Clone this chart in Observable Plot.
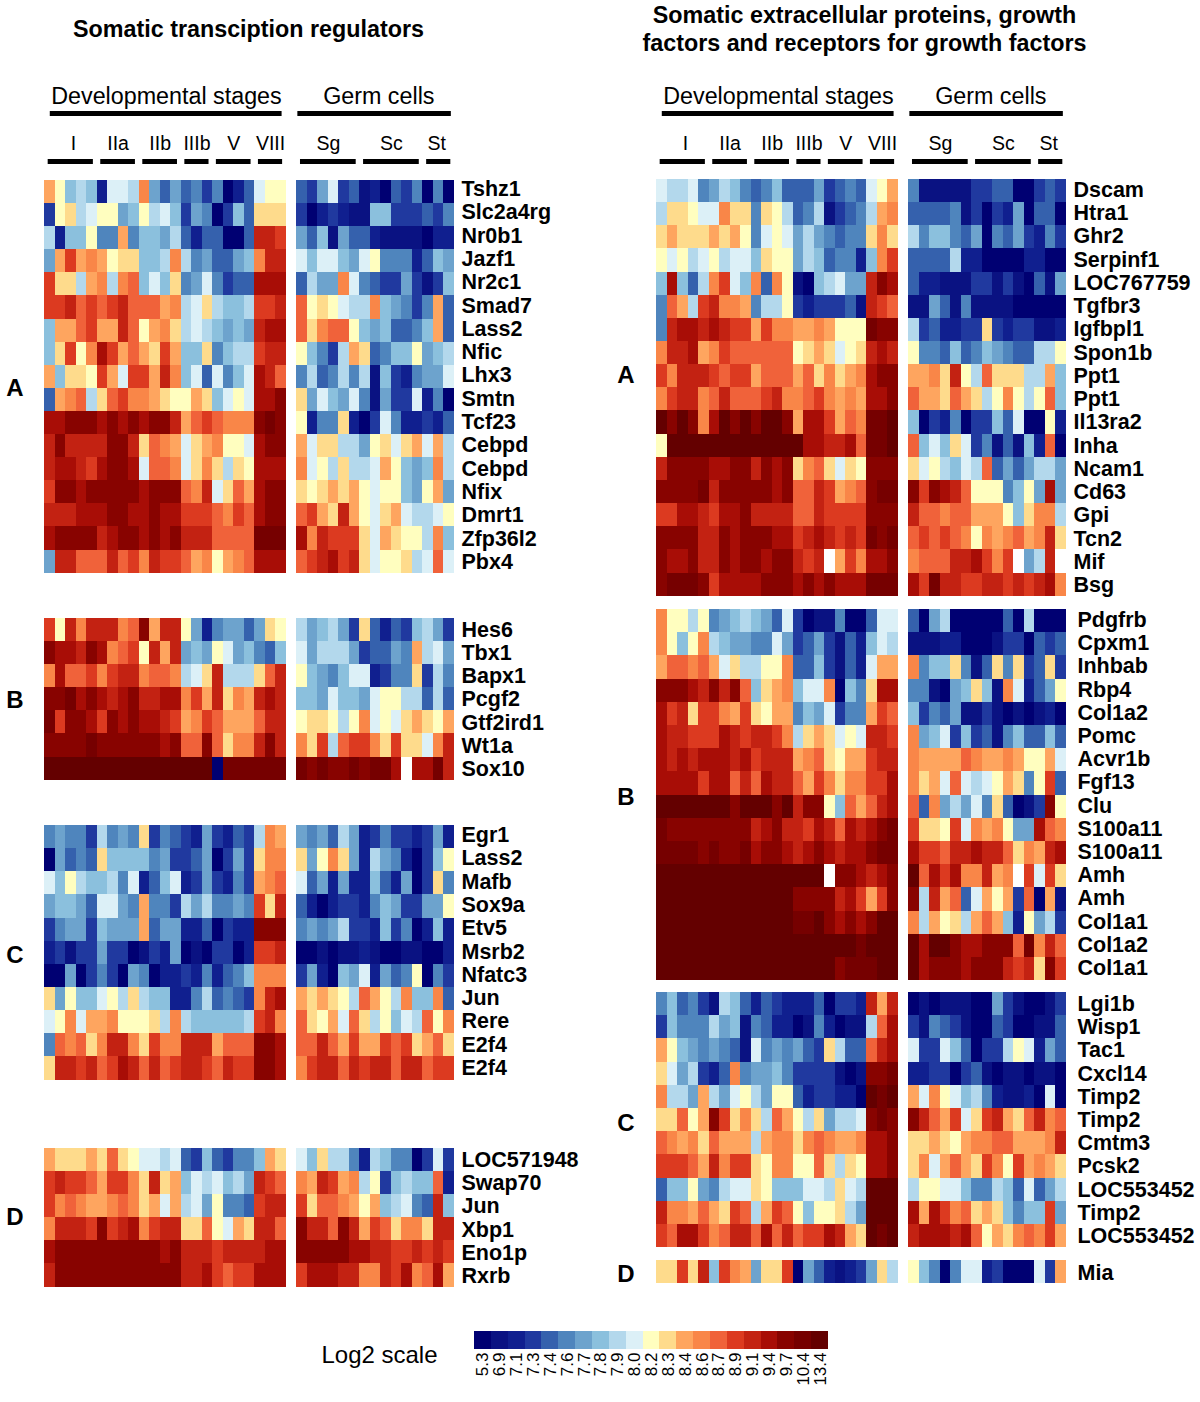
<!DOCTYPE html>
<html>
<head>
<meta charset="utf-8">
<script src="https://cdn.jsdelivr.net/npm/d3@7"></script>
<script src="https://cdn.jsdelivr.net/npm/@observablehq/plot@0.6"></script>
<style>
html,body{margin:0;padding:0;background:#fff}
#page{position:relative;width:1200px;height:1402px;overflow:hidden;font-family:"Liberation Sans",Arial,sans-serif;color:#000}
.t{position:absolute;white-space:nowrap;transform:translate(-50%,-50%)}
.title{font-weight:bold;font-size:23.3px;text-align:center;line-height:28px}
.side{font-weight:bold;font-size:24px}
svg{position:absolute}
</style>
</head>
<body>
<div id="page"></div>
<script>
// Colour classes, low to high: each character in a row below is one class, "_" is a missing (white) cell.
// "|" in the development rows only separates the stages I, IIa, IIb, IIIb, V, VIII.
const classCodes = "0123456789abcdefghijk";
const logLabels = ["5.3","6.9","7.1","7.3","7.4","7.6","7.7","7.8","7.9","8.0","8.2","8.3","8.4","8.6","8.7","8.9","9.1","9.4","9.7","10.4","13.4"];
const logColors = ["#000072","#0a1282","#101f8f","#20399f","#3561ad","#4f85bd","#6da3cd","#8bc0dd","#b3d8ec","#dcf0f7","#fffebf","#fedb8c","#fea55f","#f98648","#f0623a","#dc3a20","#c32212","#a80d06","#880300","#760000","#640000"];

const stages = ["I","IIa","IIb","IIIb","V","VIII"];
const stageSizes = [5,4,4,3,4,3];
const germStages = ["Sg","Sc","St"];
const germSizes = [6,6,3];

const leftAGenes = ["Tshz1","Slc2a4rg","Nr0b1","Jazf1","Nr2c1","Smad7","Lass2","Nfic","Lhx3","Smtn","Tcf23","Cebpd","Cebpd","Nfix","Dmrt1","Zfp36l2","Pbx4"];
const leftADev = ["ca787|2998|d646|453|5024|9aa","3ab89|aa67|a897|365|0374|bbb","8277a|55c5|7768|424|4004|ggf","6cfcd|cabb|778d|856|4467|dgg","fbb8c|d8de|797b|569|5344|hhh","ffgef|efge|eecd|89b|8778|ffg","7ccef|ccge|acdb|898|7676|ghh","7bfad|hfce|cbfc|77b|5788|fgg","c7bba|fc9f|fcgd|794|9579|hge","4cde8|befd|dcba|acb|79a9|hhi","hhiii|hihi|hiig|cef|eddd|iji","giggg|giig|bedc|9bc|daa9|hii","ghhgf|hiih|9eed|9bd|b8ba|hhh","fiihi|iiii|hiii|edg|9bec|hii","ggghh|hiih|hihh|fff|edfe|hii","hiiii|ghii|hihi|ggg|eeee|jjj","6ggee|egef|dgff|ecd|acde|hhh"];
const leftAGerm = ["436934120435050","302321177333435","647164421111022","9799769a5552476","4866d9543363137","eaba988d76535c4","ebdeea7674457c4","a7538cb4577a678","584585817325669","b69769516339250","a255b2039522324","c9bb886ab9bc9c8","d9a8b889ca767d8","babcbca9aa76ac6","efcbgca9bc9889a","hdgfffb9cbaa8d7","efghfgb9aab89e9"];

const leftBGenes = ["Hes6","Tbx1","Bapx1","Pcgf2","Gtf2ird1","Wt1a","Sox10"];
const leftBDev = ["fagdg|ggde|icgg|a62|5664|6ba","ihhgi|hdef|agcg|676|a967|547","dheef|dfgg|deed|89b|g888|beg","iijhi|hghi|gghh|dfc|gbdc|ghg","jfiih|fihi|hhgf|cdf|eccc|egg","iiiij|iiii|iihi|eei|ebdd|gig","kkkkk|kkkk|kkkk|kkk|0jjj|jjj"];
const leftBGerm = ["867863b42437863","96888634465c896","a7657992355b385","77697769aa88484","abba8ad9a9bcbac","dbf8effdbfbb9dg","jijiijijjh_hhjg"];

const leftCGenes = ["Egr1","Lass2","Mafb","Sox9a","Etv5","Msrb2","Nfatc3","Jun","Rere","E2f4","E2f4"];
const leftCDev = ["56553|8565|b354|326|3243|8dc","06454|b777|7563|346|0363|bdd","97a87|7859|2479|236|3253|cde","67764|9965|c553|868|5565|fbg","35663|7666|c466|224|0322|iii","23133|6330|1326|010|3302|ffg","00603|5306|5022|325|2457|ddd","b6a77|9a8b|8772|258|4543|dgh","9ad9c|cdaa|ab8d|877|7778|fgd","5edeb|dggd|bfdd|ggg|ceee|iih","bggfg|efhg|egef|ggf|egff|iih"];
const leftCGerm = ["656486235332362","b6adb628652037a","9462622742603b5","42023325763366a","565683327350272","001011210011002","36207692645a053","cbcba8eca8d77d4","ebac9eb8a798ead","eegecfccfefbceb","dfggegfggeggeff"];

const leftDGenes = ["LOC571948","Swap70","Jun","Xbp1","Eno1p","Rxrb"];
const leftDDev = ["cbbbc|beba|9989|437|4355|7cb","fgffe|cffd|bgbc|798|9786|gfe","fdedc|cded|bc9c|896|a554|fgg","dgggf|ifgh|dfgg|bbe|a9cb|gge","hiiii|iiii|iihi|ggg|fggg|ghh","giiii|iiii|iiii|ggh|feff|hhh"];
const leftDGerm = ["97b885287550393","dcgfcd8a37877e2","fbeedcac78954g7","iggeigcfebddbgg","iiiiihhggffgfgf","fhhhggddgfhdehc"];

const rightAGenes = ["Dscam","Htra1","Ghr2","Serpinf1","LOC767759","Tgfbr3","Igfbpl1","Spon1b","Ppt1","Ppt1","Il13ra2","Inha","Ncam1","Cd63","Gpi","Tcn2","Mif","Bsg"];
const rightADev = ["98895|6875|4574|446|3454|9ac","8bba9|9dbb|5ba8|458|1345|8cd","bcbbb|cbca|59a9|686|5455|bdb","a9a89|a899|7baa|687|4552|7df","7h748|df97|d4da|107|8966|gih","5ec8f|gddc|588a|323|3341|gfe","5ghhg|hgff|cfdd|ccd|caaa|jii","dgghc|dfee|eeee|abc|b9ab|ghg","fdggg|feff|ceee|ceb|dbcd|hii","dfggd|egee|efgd|def|dcdc|hhi","kikid|hkik|ikki|chh|fced|jjk","akkkk|kkkk|kkkk|khh|gghe|jjk","giiii|hhii|gihi|bde|b9ba|iii","iiiij|giii|iihi|eeg|fcde|ijj","ffhhg|fhhi|gggg|eeg|ffff|iii","iiiig|gihi|iihh|fgh|gfgf|jij","ihhig|gihi|ihii|gfg|_cfd|hhi","ijjji|fhhh|hiii|hih|ihhh|jjj"];
const rightAGerm = ["511111334400343","444451303260440","857754605463253","444482200002200","422111331310416","116415111100000","8342233b3233112","a5547457654488a","ccdbga8ebbb88c7","eccbecb8ada8ae7","7032503374900a2","e797b93514172e0","b9a8798e4646886","ifihgeaaa57a6h6","geedeeccca7bdd8","efefedadcdecdgb","deeegghfdf_68g_","hfjggffggfgfghd"];

const rightBGenes = ["Pdgfrb","Cpxm1","Inhbab","Rbp4","Col1a2","Pomc","Acvr1b","Fgf13","Clu","S100a11","S100a11","Amh","Amh","Col1a1","Col1a2","Col1a1"];
const rightBDev = ["daa8a|5678|7649|301|1500|499","da7ad|8766|5596|346|3142|798","ceede|c9b8|8aad|447|3142|9cc","iiihg|igie|7bcd|799|d075|bhh","hfgbf|fdcf|bacc|576|9355|cfe","hggff|fhgf|ggfd|8bc|b9a9|ggf","hghgh|hhgh|fggg|cde|bacc|fgg","hhhhf|hheg|ehgg|ecf|dbdd|ffh","kkkkk|kkik|kkik|gii|a7ec|egh","jiiii|iiii|ghig|gfh|gehg|hij","jjjji|jiij|hiih|ghi|hghh|ijj","kkkkk|kkkk|kkkk|kkk|_iih|ghi","kkkkk|kkkk|kkkk|iii|ighf|cfi","kkkkk|kkkk|kkkk|jjk|ihih|ikk","kkkkk|kkkk|kkkk|kkk|kkkj|kkk","kkkkk|kkkk|kkkk|kkk|kijj|jkk"];
const rightBGerm = ["406800000408000","111220001330434","d577b514b5b34b3","551067b71d9246a","735461131010120","d67937341574474","dccccedccdcaac9","dbc9e989acb5af4","e4d68695b4013ia","fbbaf9dcda66hed","hffegghggebdcgh","kehfhddgcd_f9fb","i8gce49cac3e0c1","d8cab8cec72a683","khkkihhiiiejdge","khiiihiiigfgbif"];

const rightCGenes = ["Lgi1b","Wisp1","Tac1","Cxcl14","Timp2","Timp2","Cmtm3","Pcsk2","LOC553452","Timp2","LOC553452"];
const rightCDev = ["57453|1874|2432|224|0332|gcg","37555|8671|5422|015|2011|8eh","ca765|6541|9565|643|b844|egh","b9683|24d5|6675|333|3101|iij","d886c|869a|86aa|423|3220|kjk","bbeac|ifbd|b8ec|a8b|6889|iji","edcdb|eccc|8cdd|bde|dccd|hhi","fffec|gdff|badd|aae|b8ba|hhi","477a6|5899|ba77|799|8b98|kkk","gddce|cbfe|8cfe|a7a|ab86|kkk","fehhf|degg|eheg|eff|hgcb|kjk"];
const rightCGerm = ["010111006310013","315431004300114","9339740338a9264","223303410110110","c9da97852112090","igecf9bfgcbegde","bbcbacddeecccdg","bd9cecbfdafcdcb","8aa997558749468","hchfdebcb7577f6","ghhhgheacbdedfc"];

const rightDGenes = ["Mia"];
const rightDDev = ["bbfbg|7fdc|6bbf|064|2123|6b8"];
const rightDGerm = ["a7505992300093c"];

const page = document.getElementById("page");
const font = "'Liberation Sans',Arial,sans-serif";
const columnCount = 23 + 1 + 15;            // development, one blank column, germ cells
const panelWidth = 410;

function place(svg, left, top){ svg.style.left = left+"px"; svg.style.top = top+"px"; page.appendChild(svg); }
function label(text, x, y, cls, size){
  const d = document.createElement("div");
  d.className = "t "+cls; d.innerHTML = text;
  d.style.left = x+"px"; d.style.top = y+"px";
  if(size) d.style.fontSize = size+"px";
  page.appendChild(d);
}

function heatmap(genes, dev, germ, left, top, rowHeight, labelPad, labelTop, labelStep){
  const cells = [];
  genes.forEach((g,r)=>{
    const d = dev[r].replace(/\|/g,"");
    [...d].forEach((c,i)=>{ if(c!=="_") cells.push({row:r,col:i,value:logLabels[classCodes.indexOf(c)]}); });
    [...germ[r]].forEach((c,i)=>{ if(c!=="_") cells.push({row:r,col:24+i,value:logLabels[classCodes.indexOf(c)]}); });
  });
  place(Plot.plot({
    width: panelWidth, height: genes.length*rowHeight, margin:0,
    style:{fontFamily:font, background:"transparent", overflow:"visible"},
    x:{domain:d3.range(columnCount), padding:0, round:false, axis:null},
    y:{domain:d3.range(genes.length), padding:0, round:false, axis:null},
    color:{type:"ordinal", domain:logLabels, range:logColors},
    marks:[ Plot.cell(cells,{x:"col",y:"row",fill:"value",shapeRendering:"crispEdges"}) ]
  }),left,top);
  // Gene names: in the reference their spacing differs a little from the rows
  place(Plot.plot({
    width: panelWidth+140, height: genes.length*labelStep,
    marginLeft:0, marginRight:140, marginTop:0, marginBottom:0,
    style:{fontFamily:font, background:"transparent", overflow:"visible"},
    x:{domain:[0,1], axis:null},
    y:{type:"band", domain:d3.range(genes.length), padding:0, round:false},
    marks:[ Plot.axisY({anchor:"right",tickSize:0,tickPadding:labelPad,tickFormat:i=>genes[i],fontSize:21.5,fontWeight:"bold",label:null,fill:"#000"}) ]
  }),left,labelTop);
}

function header(left){
  const cum = (sizes,start)=>{let s=start;return sizes.map(n=>{const a=s;s+=n;return [a,s];});};
  const devSpans = cum(stageSizes,0), germSpans = cum(germSizes,24);
  const bars = [
    ...devSpans.map(([a,b])=>({a:a+0.35,b:b-0.35,y:161})),
    ...germSpans.map(([a,b])=>({a:a+0.35,b:b-0.35,y:161})),
    {a:0.55,b:22.6,y:113},{a:24.1,b:38.7,y:113}
  ];
  const names = [
    ...stages.map((t,i)=>({t,x:i===0?2.75:(devSpans[i][0]+devSpans[i][1])/2,y:143})),
    ...germStages.map((t,i)=>({t,x:i===2?37.3:(germSpans[i][0]+germSpans[i][1])/2,y:143}))
  ];
  place(Plot.plot({
    width:panelWidth, height:100, margin:0,
    style:{fontFamily:font, background:"transparent", overflow:"visible"},
    x:{domain:[0,columnCount],axis:null},
    y:{domain:[170,70],axis:null},
    marks:[
      Plot.ruleY(bars,{x1:"a",x2:"b",y:"y",stroke:"#000",strokeWidth:5}),
      Plot.text(names,{x:"x",y:"y",text:"t",fontSize:19.5,fill:"#000"}),
      Plot.text(["Developmental stages"],{x:[11.6],y:[96],text:d=>d,fontSize:23.3,fill:"#000"}),
      Plot.text(["Germ cells"],{x:[31.8],y:[96],text:d=>d,fontSize:23.3,fill:"#000"})
    ]
  }),left,70);
}

const leftX = 44.3, rightX = 655.7;
header(leftX); header(rightX);

heatmap(leftAGenes,leftADev,leftAGerm,leftX,179.5,23.1,7,177.35,23.3);
heatmap(leftBGenes,leftBDev,leftBGerm,leftX,618.3,23.1,7,618.25,23.17);
heatmap(leftCGenes,leftCDev,leftCGerm,leftX,824.5,23.15,7,823.45,23.3);
heatmap(leftDGenes,leftDDev,leftDGerm,leftX,1148.3,23.1,7,1148.25,23.2);
heatmap(rightAGenes,rightADev,rightAGerm,rightX,179.2,23.15,7,178.2,23.24);
heatmap(rightBGenes,rightBDev,rightBGerm,rightX,608.8,23.2,11,607.8,23.2);
heatmap(rightCGenes,rightCDev,rightCGerm,rightX,992.3,23.2,11,992.3,23.2);
heatmap(rightDGenes,rightDDev,rightDGerm,rightX,1260,22.5,11,1261,23);

label("Somatic transciption regulators",248.5,29,"title");
label("Somatic extracellular proteins, growth<br>factors and receptors for growth factors",864.5,29,"title");
[["A",15,388],["B",15,700],["C",15,955],["D",15,1217],["A",626,375],["B",626,797],["C",626,1123],["D",626,1274]]
  .forEach(([t,x,y])=>label(t,x,y,"side"));
label("Log2 scale",379.5,1355,"",24);

// Colour key
place(Plot.plot({
  width:354, height:70, marginLeft:0, marginRight:0, marginTop:0, marginBottom:52,
  style:{fontFamily:font, background:"transparent", overflow:"visible"},
  x:{domain:logLabels, padding:0, round:false},
  y:{axis:null},
  color:{type:"ordinal", domain:logLabels, range:logColors},
  marks:[
    Plot.cell(logLabels,{x:d=>d,fill:d=>d,shapeRendering:"crispEdges"}),
    Plot.axisX({tickSize:0,tickPadding:3,tickRotate:-90,fontSize:17,label:null,fill:"#000"})
  ]
}),474,1331);
</script>
</body>
</html>
